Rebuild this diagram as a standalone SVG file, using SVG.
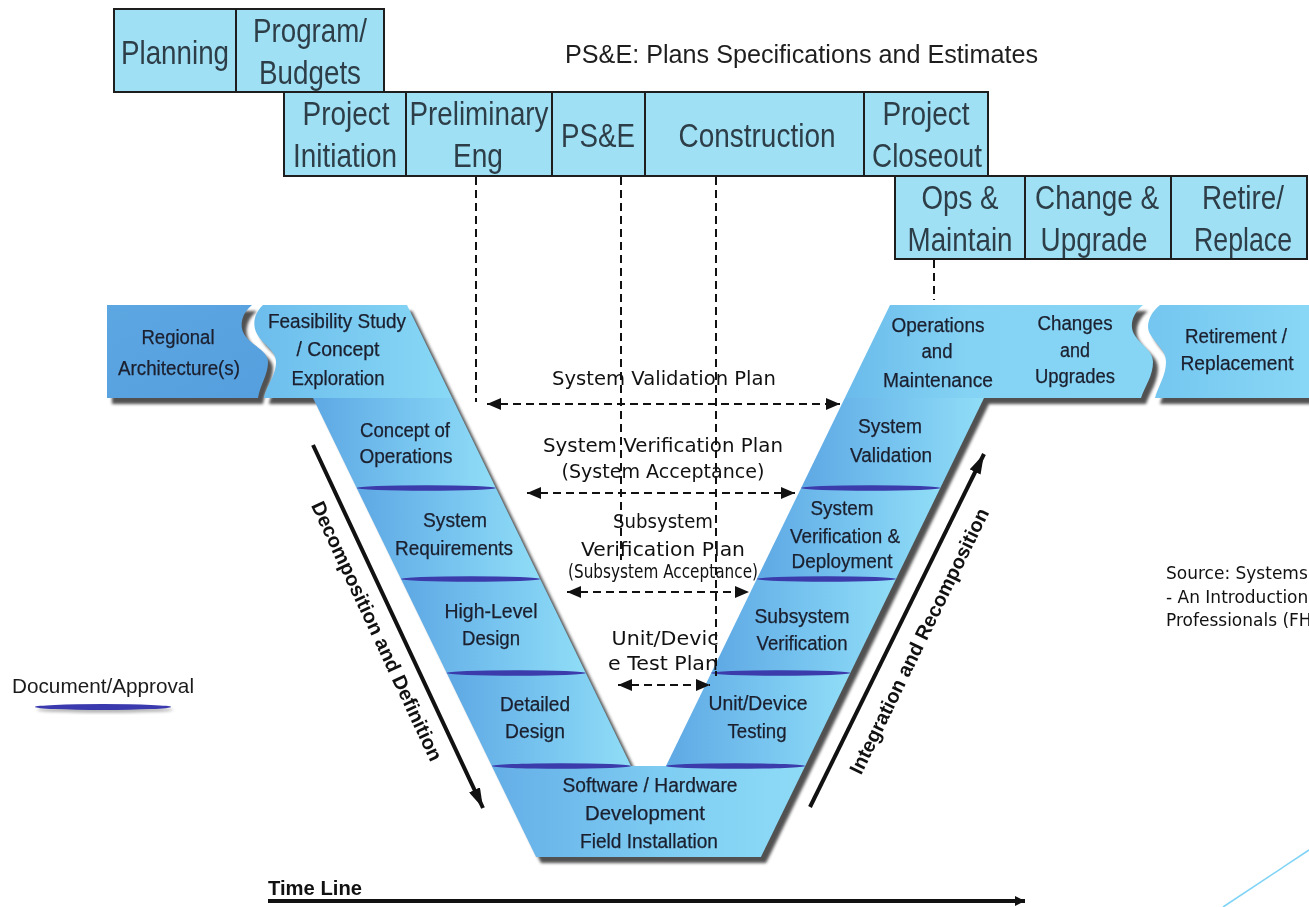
<svg xmlns="http://www.w3.org/2000/svg" width="1309" height="907" viewBox="0 0 1309 907">
<style>
.bx{fill:#a0e0f4;stroke:#1e1e1e;stroke-width:2}
.bt{font-family:"Liberation Sans",Arial,sans-serif;font-size:34px;fill:#2d3e48;text-anchor:middle}
.vt{font-family:"Liberation Sans",Arial,sans-serif;font-size:20px;fill:#1b1f2e;text-anchor:middle;stroke:#1b1f2e;stroke-width:0.25}
.ct{font-family:"DejaVu Sans",Verdana,sans-serif;font-size:19px;fill:#111;text-anchor:middle}
.rt{font-family:"Liberation Sans",Arial,sans-serif;font-size:20px;font-weight:bold;fill:#111;text-anchor:middle}
.dash{stroke:#111;stroke-width:2;stroke-dasharray:8 5;fill:none}
.lens{fill:#3b3bab}
.arm{fill:url(#gArm)}
</style>
<defs>
<linearGradient id="gArm" x1="0" y1="0" x2="1" y2="0"><stop offset="0" stop-color="#5ea8e4"/><stop offset="0.55" stop-color="#78c6f0"/><stop offset="1" stop-color="#90ddf7"/></linearGradient>
<linearGradient id="gFeas" x1="0" y1="0" x2="1" y2="0"><stop offset="0" stop-color="#6cbdec"/><stop offset="1" stop-color="#88d8f6"/></linearGradient>
<linearGradient id="gOps" x1="0" y1="0" x2="1" y2="0"><stop offset="0" stop-color="#6abbeb"/><stop offset="0.4" stop-color="#84d3f4"/><stop offset="1" stop-color="#86d5f5"/></linearGradient>
<linearGradient id="gReg" x1="0" y1="0" x2="1" y2="1"><stop offset="0" stop-color="#5ca6e2"/><stop offset="1" stop-color="#569fde"/></linearGradient>
<linearGradient id="gRet" x1="0" y1="0" x2="1" y2="0"><stop offset="0" stop-color="#74c6f0"/><stop offset="1" stop-color="#8ad8f6"/></linearGradient>
<linearGradient id="gSw" x1="0" y1="0" x2="1" y2="0"><stop offset="0" stop-color="#64aee7"/><stop offset="0.6" stop-color="#80cff3"/><stop offset="1" stop-color="#8edbf7"/></linearGradient>
<filter id="blur" x="-10%" y="-10%" width="130%" height="130%"><feGaussianBlur stdDeviation="1.8"/></filter>
<marker id="ah" viewBox="0 0 14 12" refX="14" refY="6" markerWidth="14" markerHeight="12" orient="auto-start-reverse" markerUnits="userSpaceOnUse"><path d="M0,0 L14,6 L0,12 Z" fill="#111"/></marker>
<marker id="ahBig" viewBox="0 0 20 12" refX="20" refY="6" markerWidth="20" markerHeight="12" orient="auto" markerUnits="userSpaceOnUse"><path d="M0,0 L20,6 L0,12 Z" fill="#111"/></marker>
<marker id="ahTl" viewBox="0 0 10 10" refX="10" refY="5" markerWidth="10" markerHeight="10" orient="auto" markerUnits="userSpaceOnUse"><path d="M0,0 L10,5 L0,10 Z" fill="#111"/></marker>
</defs>
<rect width="1309" height="907" fill="#ffffff"/>

<!-- shadows -->
<g id="shadows" fill="#333" opacity="0.85" filter="url(#blur)">
<path transform="translate(5,6)" d="M263,305 L407,305 L631,766 L666,766 L890,305 L1143,305 C1133,313 1129,325 1134,334 C1140,345 1153,350 1153,362 C1153,376 1145,386 1141,398 L984,398 L761,857 L536,857 L313,398 L264,398 C265,388 276,376 276,362 C276,350 263,345 257,334 C252,325 254,313 263,305 Z"/>
<path transform="translate(5,6)" d="M107,305 L252,305 C242,313 239,325 244,334 C250,345 268,350 268,362 C268,375 260,385 258,398 L107,398 Z"/>
<path transform="translate(5,6)" d="M1160,305 L1315,305 L1315,398 L1155,398 C1157,388 1166,376 1166,362 C1166,350 1156,345 1150,334 C1145,325 1150,313 1160,305 Z"/>
</g>

<!-- top phase boxes -->
<g id="planning"><rect class="bx" x="114" y="9" width="122" height="83"/><text class="bt" x="175" y="64" textLength="108" lengthAdjust="spacingAndGlyphs">Planning</text></g>
<g id="program-budgets"><rect class="bx" x="236" y="9" width="148" height="83"/><text class="bt" x="310" y="42" textLength="114" lengthAdjust="spacingAndGlyphs">Program/</text><text class="bt" x="310" y="84" textLength="102" lengthAdjust="spacingAndGlyphs">Budgets</text></g>
<g id="project-initiation"><rect class="bx" x="284" y="92" width="122" height="84"/><text class="bt" x="346" y="125" textLength="87" lengthAdjust="spacingAndGlyphs">Project</text><text class="bt" x="345" y="167" textLength="104" lengthAdjust="spacingAndGlyphs">Initiation</text></g>
<g id="preliminary-eng"><rect class="bx" x="406" y="92" width="146" height="84"/><text class="bt" x="479" y="125" textLength="139" lengthAdjust="spacingAndGlyphs">Preliminary</text><text class="bt" x="478" y="167" textLength="50" lengthAdjust="spacingAndGlyphs">Eng</text></g>
<g id="pse"><rect class="bx" x="552" y="92" width="93" height="84"/><text class="bt" x="598" y="147" textLength="74" lengthAdjust="spacingAndGlyphs">PS&amp;E</text></g>
<g id="construction"><rect class="bx" x="645" y="92" width="219" height="84"/><text class="bt" x="757" y="147" textLength="157" lengthAdjust="spacingAndGlyphs">Construction</text></g>
<g id="project-closeout"><rect class="bx" x="864" y="92" width="124" height="84"/><text class="bt" x="926" y="125" textLength="87" lengthAdjust="spacingAndGlyphs">Project</text><text class="bt" x="927" y="167" textLength="110" lengthAdjust="spacingAndGlyphs">Closeout</text></g>
<g id="ops-maintain"><rect class="bx" x="895" y="176" width="130" height="83"/><text class="bt" x="960" y="209" textLength="77" lengthAdjust="spacingAndGlyphs">Ops &amp;</text><text class="bt" x="960" y="251" textLength="105" lengthAdjust="spacingAndGlyphs">Maintain</text></g>
<g id="change-upgrade"><rect class="bx" x="1025" y="176" width="146" height="83"/><text class="bt" x="1097" y="209" textLength="124" lengthAdjust="spacingAndGlyphs">Change &amp;</text><text class="bt" x="1094" y="251" textLength="107" lengthAdjust="spacingAndGlyphs">Upgrade</text></g>
<g id="retire-replace"><rect class="bx" x="1171" y="176" width="136" height="83"/><text class="bt" x="1243" y="209" textLength="82" lengthAdjust="spacingAndGlyphs">Retire/</text><text class="bt" x="1243" y="251" textLength="98" lengthAdjust="spacingAndGlyphs">Replace</text></g>

<g id="pse-note"><text x="565" y="63" font-family="Liberation Sans, Arial, sans-serif" font-size="25" fill="#1e1e1e" textLength="473" lengthAdjust="spacingAndGlyphs">PS&amp;E: Plans Specifications and Estimates</text></g>

<!-- V diagram -->
<g id="regional-architecture">
<path fill="url(#gReg)" d="M107,305 L252,305 C242,313 239,325 244,334 C250,345 268,350 268,362 C268,375 260,385 258,398 L107,398 Z"/>
<text class="vt" x="178" y="344" textLength="73" lengthAdjust="spacingAndGlyphs">Regional</text>
<text class="vt" x="179" y="375" textLength="122" lengthAdjust="spacingAndGlyphs">Architecture(s)</text>
</g>
<g id="feasibility-study">
<path fill="url(#gFeas)" d="M263,305 L407,305 L452.2,398 L264,398 C265,388 276,376 276,362 C276,350 263,345 257,334 C252,325 254,313 263,305 Z"/>
<text class="vt" x="337" y="328" textLength="138" lengthAdjust="spacingAndGlyphs">Feasibility Study</text>
<text class="vt" x="338" y="356" textLength="83" lengthAdjust="spacingAndGlyphs">/ Concept</text>
<text class="vt" x="338" y="385" textLength="93" lengthAdjust="spacingAndGlyphs">Exploration</text>
</g>
<g id="concept-of-operations">
<polygon class="arm" points="313,398 452.2,398 495.9,488 356.7,488"/>
<text class="vt" x="405" y="437" textLength="90" lengthAdjust="spacingAndGlyphs">Concept of</text>
<text class="vt" x="406" y="463" textLength="93" lengthAdjust="spacingAndGlyphs">Operations</text>
</g>
<g id="system-requirements">
<polygon class="arm" points="356.7,488 495.9,488 540.2,579 401,579"/>
<text class="vt" x="455" y="527" textLength="64" lengthAdjust="spacingAndGlyphs">System</text>
<text class="vt" x="454" y="555" textLength="118" lengthAdjust="spacingAndGlyphs">Requirements</text>
</g>
<g id="high-level-design">
<polygon class="arm" points="401,579 540.2,579 585.8,673 446.7,673"/>
<text class="vt" x="491" y="618" textLength="93" lengthAdjust="spacingAndGlyphs">High-Level</text>
<text class="vt" x="491" y="645" textLength="58" lengthAdjust="spacingAndGlyphs">Design</text>
</g>
<g id="detailed-design">
<polygon class="arm" points="446.7,673 585.8,673 631,766 491.8,766"/>
<text class="vt" x="535" y="711" textLength="70" lengthAdjust="spacingAndGlyphs">Detailed</text>
<text class="vt" x="535" y="738" textLength="60" lengthAdjust="spacingAndGlyphs">Design</text>
</g>
<g id="software-hardware">
<polygon fill="url(#gSw)" points="491.8,766 805.2,766 760.9,857 536.1,857"/>
<text class="vt" x="650" y="792" textLength="175" lengthAdjust="spacingAndGlyphs">Software / Hardware</text>
<text class="vt" x="645" y="820" textLength="120" lengthAdjust="spacingAndGlyphs">Development</text>
<text class="vt" x="649" y="848" textLength="138" lengthAdjust="spacingAndGlyphs">Field Installation</text>
</g>
<g id="unit-device-testing">
<polygon class="arm" points="711.2,673 850.3,673 805.2,766 666,766"/>
<text class="vt" x="758" y="710" textLength="99" lengthAdjust="spacingAndGlyphs">Unit/Device</text>
<text class="vt" x="757" y="738" textLength="59" lengthAdjust="spacingAndGlyphs">Testing</text>
</g>
<g id="subsystem-verification">
<polygon class="arm" points="756.8,579 896,579 850.3,673 711.2,673"/>
<text class="vt" x="802" y="623" textLength="95" lengthAdjust="spacingAndGlyphs">Subsystem</text>
<text class="vt" x="802" y="650" textLength="91" lengthAdjust="spacingAndGlyphs">Verification</text>
</g>
<g id="system-verification-deployment">
<polygon class="arm" points="801.1,488 940.3,488 896,579 756.8,579"/>
<text class="vt" x="842" y="515" textLength="63" lengthAdjust="spacingAndGlyphs">System</text>
<text class="vt" x="845" y="543" textLength="110" lengthAdjust="spacingAndGlyphs">Verification &amp;</text>
<text class="vt" x="842" y="568" textLength="101" lengthAdjust="spacingAndGlyphs">Deployment</text>
</g>
<g id="system-validation">
<polygon class="arm" points="844.8,398 984,398 940.3,488 801.1,488"/>
<text class="vt" x="890" y="433" textLength="64" lengthAdjust="spacingAndGlyphs">System</text>
<text class="vt" x="891" y="462" textLength="82" lengthAdjust="spacingAndGlyphs">Validation</text>
</g>
<g id="operations-changes">
<path fill="url(#gOps)" d="M890,305 L1143,305 C1133,313 1129,325 1134,334 C1140,345 1153,350 1153,362 C1153,376 1145,386 1141,398 L844.8,398 Z"/>
<text class="vt" x="938" y="332" textLength="93" lengthAdjust="spacingAndGlyphs">Operations</text>
<text class="vt" x="937" y="358" textLength="31" lengthAdjust="spacingAndGlyphs">and</text>
<text class="vt" x="938" y="387" textLength="110" lengthAdjust="spacingAndGlyphs">Maintenance</text>
<text class="vt" x="1075" y="330" textLength="75" lengthAdjust="spacingAndGlyphs">Changes</text>
<text class="vt" x="1075" y="357" textLength="30" lengthAdjust="spacingAndGlyphs">and</text>
<text class="vt" x="1075" y="383" textLength="80" lengthAdjust="spacingAndGlyphs">Upgrades</text>
</g>
<g id="retirement-replacement">
<path fill="url(#gRet)" d="M1160,305 L1315,305 L1315,398 L1155,398 C1157,388 1166,376 1166,362 C1166,350 1156,345 1150,334 C1145,325 1150,313 1160,305 Z"/>
<text class="vt" x="1236" y="343" textLength="102" lengthAdjust="spacingAndGlyphs">Retirement /</text>
<text class="vt" x="1237" y="370" textLength="113" lengthAdjust="spacingAndGlyphs">Replacement</text>
</g>

<g id="approval-lenses">
<ellipse class="lens" cx="426.3" cy="488" rx="69.6" ry="2.8"/>
<ellipse class="lens" cx="470.6" cy="579" rx="69.6" ry="2.8"/>
<ellipse class="lens" cx="516.2" cy="673" rx="69.6" ry="2.8"/>
<ellipse class="lens" cx="561.4" cy="766" rx="69.6" ry="2.8"/>
<ellipse class="lens" cx="870.7" cy="488" rx="69.6" ry="2.8"/>
<ellipse class="lens" cx="826.4" cy="579" rx="69.6" ry="2.8"/>
<ellipse class="lens" cx="780.7" cy="673" rx="69.6" ry="2.8"/>
<ellipse class="lens" cx="735.6" cy="766" rx="69.6" ry="2.8"/>
</g>

<!-- plan labels -->
<g id="plan-labels">
<text class="ct" x="664" y="385" textLength="224" lengthAdjust="spacingAndGlyphs">System Validation Plan</text>
<text class="ct" x="663" y="452" textLength="240" lengthAdjust="spacingAndGlyphs">System Verification Plan</text>
<text class="ct" x="663" y="478" textLength="203" lengthAdjust="spacingAndGlyphs">(System Acceptance)</text>
<text class="ct" x="663" y="528" textLength="100" lengthAdjust="spacingAndGlyphs">Subsystem</text>
<text class="ct" x="663" y="556" textLength="164" lengthAdjust="spacingAndGlyphs">Verification Plan</text>
<text class="ct" x="663" y="578" font-size="14" textLength="190" lengthAdjust="spacingAndGlyphs">(Subsystem Acceptance)</text>
<text class="ct" x="665" y="645" textLength="107" lengthAdjust="spacingAndGlyphs">Unit/Devic</text>
<text class="ct" x="663" y="670" textLength="110" lengthAdjust="spacingAndGlyphs">e Test Plan</text>
</g>

<!-- connectors -->
<g id="connectors">
<line class="dash" x1="476" y1="177" x2="476" y2="402"/>
<line class="dash" x1="621" y1="177" x2="621" y2="560"/>
<line class="dash" x1="716" y1="177" x2="716" y2="676"/>
<line class="dash" x1="934" y1="260" x2="934" y2="300"/>
<line class="dash" x1="487" y1="404" x2="840" y2="404" marker-start="url(#ah)" marker-end="url(#ah)"/>
<line class="dash" x1="527" y1="493" x2="795" y2="493" marker-start="url(#ah)" marker-end="url(#ah)"/>
<line class="dash" x1="567" y1="592" x2="749" y2="592" marker-start="url(#ah)" marker-end="url(#ah)"/>
<line class="dash" x1="618" y1="685" x2="710" y2="685" marker-start="url(#ah)" marker-end="url(#ah)"/>
<line x1="313" y1="445" x2="483" y2="808" stroke="#111" stroke-width="4" marker-end="url(#ahBig)"/>
<line x1="810" y1="807" x2="984" y2="454" stroke="#111" stroke-width="4" marker-end="url(#ahBig)"/>
<line x1="268" y1="901" x2="1025" y2="901" stroke="#111" stroke-width="4" marker-end="url(#ahTl)"/>
</g>

<g id="decomposition-label"><text class="rt" transform="translate(377,631) rotate(65)" dominant-baseline="central" textLength="284" lengthAdjust="spacingAndGlyphs">Decomposition and Definition</text></g>
<g id="integration-label"><text class="rt" transform="translate(919,641) rotate(-64)" dominant-baseline="central" textLength="293" lengthAdjust="spacingAndGlyphs">Integration and Recomposition</text></g>

<g id="timeline-label"><text x="268" y="895" font-family="Liberation Sans, Arial, sans-serif" font-size="20" font-weight="bold" fill="#111" textLength="94" lengthAdjust="spacingAndGlyphs">Time Line</text></g>

<g id="legend">
<text x="12" y="693" font-family="Liberation Sans, Arial, sans-serif" font-size="21" fill="#1b1b1b" textLength="182" lengthAdjust="spacingAndGlyphs">Document/Approval</text>
<ellipse cx="105" cy="710" rx="68" ry="3" fill="#888" opacity="0.6" filter="url(#blur)"/>
<ellipse cx="103" cy="707" rx="68" ry="3" fill="#3a3aae"/>
</g>

<g id="source-note" font-family="DejaVu Sans, Verdana, sans-serif" font-size="17" fill="#111">
<text x="1166" y="579">Source: Systems</text>
<text x="1166" y="603">- An Introduction</text>
<text x="1166" y="626">Professionals (FH</text>
</g>

<line x1="1223" y1="907" x2="1309" y2="850" stroke="#7fd4f5" stroke-width="1.5"/>
</svg>
